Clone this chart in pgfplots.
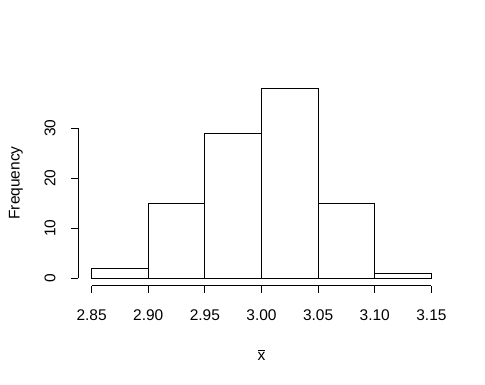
\documentclass[border=0pt]{standalone}
\usepackage{fontspec}
\setmainfont{Liberation Sans}
\usepackage{pgfplots}
\pgfplotsset{compat=1.18}
\begin{document}
\begin{tikzpicture}
\path[use as bounding box] (-78pt,-98.4pt) rectangle (407pt,285.6pt);
\begin{axis}[
  at={(0pt,0pt)}, anchor=south west,
  scale only axis, width=367pt, height=205.2pt,
  xmin=2.838, xmax=3.162, ymin=-1.52, ymax=39.52,
  axis line style={draw=none},
  tick align=outside, major tick length=7pt,
  xtick={2.85,2.90,2.95,3.00,3.05,3.10,3.15},
  xticklabels={2.85,2.90,2.95,3.00,3.05,3.10,3.15},
  ytick={0,10,20,30},
  xtick pos=bottom, ytick pos=left,
  tick style={black, line width=0.8pt},
  /pgf/number format/assume math mode=true,
  ticklabel style={font=\fontsize{15.5pt}{18pt}\selectfont},
  xticklabel style={anchor=center, yshift=-22.4pt},
  yticklabel style={rotate=90, anchor=center, yshift=21pt},
  label style={font=\fontsize{15.5pt}{18pt}\selectfont},
  xlabel={$\overline{\hbox{x}}$},
  ylabel={Frequency},
  xlabel style={at={(axis description cs:0.5,0)}, anchor=center, yshift=-69.4pt},
  ylabel style={at={(axis description cs:0,0.5)}, anchor=center, yshift=62pt},
  clip=false,
]
\addplot[ybar interval, draw=black, fill=white, line width=0.8pt] coordinates {
(2.85,2) (2.90,15) (2.95,29) (3.00,38) (3.05,15) (3.10,1) (3.15,1)};
\draw[line width=0.8pt] (axis cs:2.85,-1.52) -- (axis cs:3.15,-1.52);
\draw[line width=0.8pt] (axis cs:2.838,0) -- (axis cs:2.838,30);
\end{axis}
\end{tikzpicture}
\end{document}
